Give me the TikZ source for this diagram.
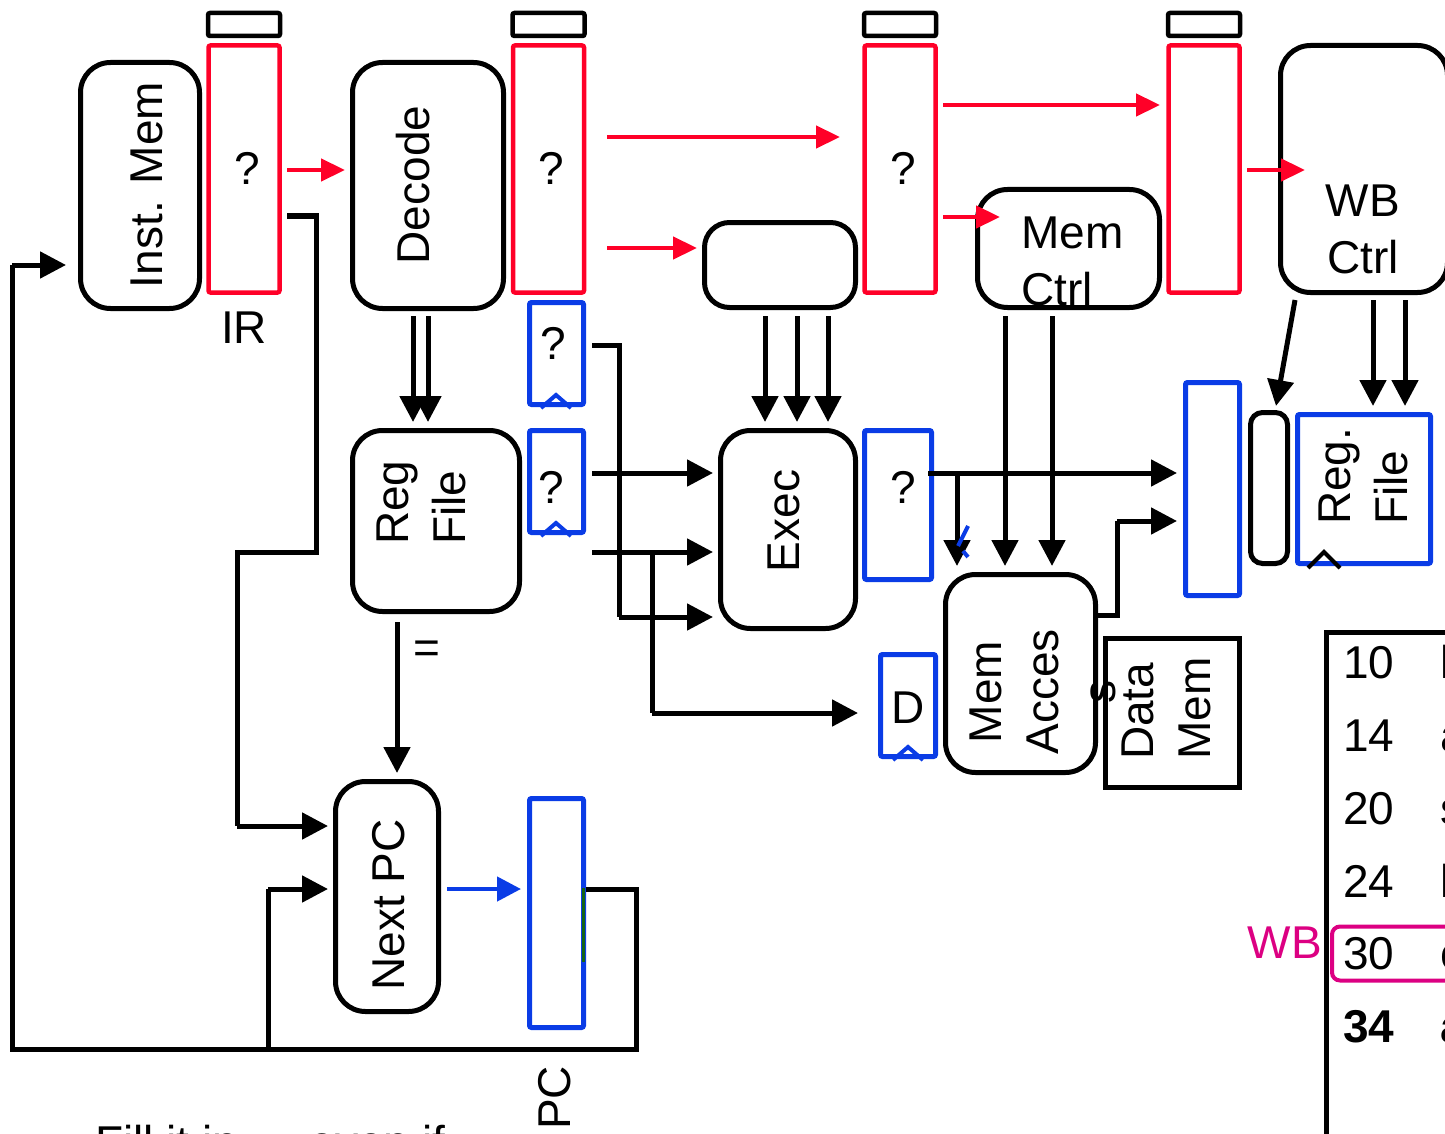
\documentclass[tikz,border=0pt]{standalone}
\usepackage{fontspec}
\setmainfont{Liberation Sans}
\usetikzlibrary{arrows.meta}
\definecolor{pred}{RGB}{255,0,40}
\definecolor{pblue}{RGB}{10,60,230}
\definecolor{pmag}{RGB}{220,0,130}
\definecolor{pgreen}{RGB}{20,100,20}
\begin{document}
\begin{tikzpicture}[x=1pt,y=-1pt,
  txt/.style={font=\fontsize{46}{57}\selectfont, inner sep=0pt, align=center},
  rot/.style={txt, rotate=90},
  rbox/.style={draw, line width=5pt, rounded corners=30pt, inner sep=0pt},
  redreg/.style={draw=pred, line width=4.5pt, inner sep=0pt, rounded corners=2pt},
  bluereg/.style={draw=pblue, line width=5pt, inner sep=0pt, rounded corners=2pt},
  topbox/.style={draw, line width=4.5pt, rounded corners=2pt, minimum width=72pt, minimum height=23pt, inner sep=0pt},
  wire/.style={line width=5pt},
  arr/.style={wire, -{Triangle[length=26pt,width=26pt]}},
  rarr/.style={pred, line width=4.5pt, -{Triangle[length=24pt,width=22pt]}},
  barr/.style={pblue, line width=4.5pt, -{Triangle[length=24pt,width=24pt]}},
  clk/.style={pblue, line width=4pt},
]
\useasboundingbox (0,0) rectangle (1445,1134);
\clip (0,0) rectangle (1445,1134);

% ---- top clock boxes and red pipeline registers
\node[topbox] (c1) at (244,24.5) {};
\node[topbox] (c2) at (548.5,24.5) {};
\node[topbox] (c3) at (900,24.5) {};
\node[topbox] (c4) at (1204,24.5) {};
\node[redreg, minimum width=71, minimum height=247] (ir) at (244,169) {};
\node[redreg, minimum width=71, minimum height=247] (r2) at (548.5,169) {};
\node[redreg, minimum width=71, minimum height=247] (r3) at (900,169) {};
\node[redreg, minimum width=71, minimum height=247] (r4) at (1204,169) {};
\node[txt] (q1) at (247,168) {?};
\node[txt] (q2) at (551,168) {?};
\node[txt] (q3) at (903,168) {?};
\node[txt] (irl) at (244,328) {IR};

% ---- main blocks
\node[rbox, minimum width=119, minimum height=246] (imem) at (140,185.5) {};
\node[rot] (timem) at (147,185) {Inst. Mem};
\node[rbox, minimum width=151, minimum height=246] (dec) at (428,185.5) {};
\node[rot] (tdec) at (413,185) {Decode};
\node[rbox, rounded corners=25pt, minimum width=151, minimum height=85] (ebox) at (780,265) {};
\node[rbox, minimum width=182, minimum height=118] (mctrl) at (1068.5,248.5) {};
\node[txt, align=left, anchor=west] (tmctrl) at (1021,261) {Mem\\Ctrl};
\node[rbox, minimum width=167, minimum height=247] (wbc) at (1364,169) {};
\node[txt] (twbc) at (1363,229) {WB\\Ctrl};

\node[rbox, minimum width=167, minimum height=181] (regf) at (436,521) {};
\node[rot, align=left, anchor=west] (tregf) at (421.5,545) {Reg\\File};
\node[rbox, minimum width=103, minimum height=230] (npc) at (387,896.5) {};
\node[rot] (tnpc) at (389,905) {Next PC};
\node[rbox, minimum width=135, minimum height=198] (exec) at (788,529.5) {};
\node[rot] (texec) at (784,521) {Exec};
\node[rbox, minimum width=150, minimum height=198] (macc) at (1020.5,673.5) {};
\node[rot] (tmacc) at (1042.5,692) {Mem\\Acces\\s};
\node[draw, line width=5pt, minimum width=134, minimum height=149, inner sep=0pt] (dmem) at (1172.5,713) {};
\node[rot, align=left, anchor=west] (tdmem) at (1166,760) {Data\\Mem};

% ---- blue registers
\node[bluereg, minimum width=54, minimum height=102] (qa) at (556.5,353.5) {};
\node[txt] (tqa) at (553,343) {?};
\node[bluereg, minimum width=54, minimum height=102] (qb) at (556.5,481.5) {};
\node[txt] (tqb) at (551,487) {?};
\node[bluereg, minimum width=67, minimum height=149] (qc) at (898,505) {};
\node[txt] (tqc) at (903,487) {?};
\node[bluereg, minimum width=55, minimum height=102] (dreg) at (908,705.5) {};
\node[txt] (tdreg) at (908,708) {D};
\node[bluereg, minimum width=54, minimum height=229] (pc) at (556.5,913) {};
\node[rot] (tpc) at (555,1098) {PC};
\node[bluereg, minimum width=54, minimum height=213] (wreg) at (1212.5,489) {};
\node[draw, line width=5pt, rounded corners=12pt, minimum width=37, minimum height=151, inner sep=0pt] (mux) at (1269,488) {};
\node[bluereg, minimum width=133, minimum height=149] (rf2) at (1364,489) {};
\node[rot, align=left, anchor=west] (trf2) at (1363.5,525) {Reg.\\File};

% clock marks
\draw[clk] (541,408) -- (556,395) -- (571,408);
\draw[clk] (541,536) -- (556,523) -- (571,536);
\draw[clk] (893,760) -- (908,747) -- (923,760);
\draw[line width=4pt] (1308,568) -- (1324,552) -- (1340,568);

% ---- red arrows
\draw[rarr] (287,170) -- (345,170);
\draw[rarr] (607,137) -- (840,137);
\draw[rarr] (607,248) -- (697,248);
\draw[rarr] (943,105) -- (1160,105);
\draw[rarr] (943,217) -- (1000,217);
\draw[rarr] (1247,170) -- (1305,170);

% ---- black wires
\draw[arr] (413,316) -- (413,422);
\draw[arr] (428,316) -- (428,422);
\draw[wire] (287,216) -- (316,216) -- (316,552) -- (237,552) -- (237,826);
\draw[arr] (237,826) -- (328,826);
\draw[arr] (397,622) -- (397,773);
\node[txt] (eq) at (427,652) {=};

\draw[wire] (592,345) -- (619,345) -- (619,617);
\draw[arr] (619,617) -- (713,617);
\draw[arr] (592,473) -- (713,473);
\draw[arr] (592,552) -- (713,552);
\draw[wire] (652,552) -- (652,713);
\draw[arr] (652,713) -- (858,713);

\draw[arr] (765,316) -- (765,422);
\draw[arr] (797,316) -- (797,422);
\draw[arr] (828,316) -- (828,422);

\draw[arr] (928,473) -- (1177,473);
\draw[arr] (957,473) -- (957,566);
\draw[clk] (968,526) -- (958,546);
\draw[clk] (963,551) -- (968,557);
\draw[arr] (1005,316) -- (1005,566);
\draw[arr] (1052,316) -- (1052,566);
\draw[wire] (1098,615) -- (1117,615) -- (1117,521);
\draw[arr] (1117,521) -- (1177,521);

\draw[arr] (1295,300) -- (1276,406);
\draw[arr] (1373,300) -- (1373,406);
\draw[arr] (1405,300) -- (1405,406);

\draw[barr] (447,889) -- (521,889);
\draw[wire] (586,889) -- (636,889) -- (636,1049) -- (12,1049) -- (12,265);
\draw[arr] (12,265) -- (66,265);
\draw[wire] (268,1049) -- (268,889);
\draw[arr] (268,889) -- (328,889);
\draw[pgreen, line width=3pt] (583,888) -- (583,962);

% ---- program listing
\draw[wire] (1326,1140) -- (1326,632) -- (1450,632);
\node[txt, anchor=base west] (n10) at (1343,678) {10};
\node[txt, anchor=base west] (n14) at (1343,751) {14};
\node[txt, anchor=base west] (n20) at (1343,824) {20};
\node[txt, anchor=base west] (n24) at (1343,897) {24};
\node[txt, anchor=base west] (n30) at (1343,969) {30};
\node[txt, anchor=base west, font=\fontsize{46}{57}\selectfont\bfseries] (n34) at (1343,1042) {34};
\node[txt, anchor=base west] (i10) at (1440,678) {l};
\node[txt, anchor=base west] (i14) at (1440,751) {a};
\node[txt, anchor=base west] (i20) at (1440,824) {s};
\node[txt, anchor=base west] (i24) at (1440,897) {l};
\node[txt, anchor=base west] (i30) at (1440,969) {c};
\node[txt, anchor=base west, font=\fontsize{46}{57}\selectfont\bfseries] (i34) at (1440,1042) {a};
\node[draw=pmag, line width=4pt, rounded corners=8pt, minimum width=130, minimum height=54, inner sep=0pt, anchor=west] (wbsel) at (1330,953.5) {};
\node[txt, text=pmag, anchor=base] (wbt) at (1285,958) {WB};

% ---- cut-off caption
\node[txt, anchor=base west] (fill) at (95,1158) {Fill it in — even if};
\end{tikzpicture}
\end{document}
